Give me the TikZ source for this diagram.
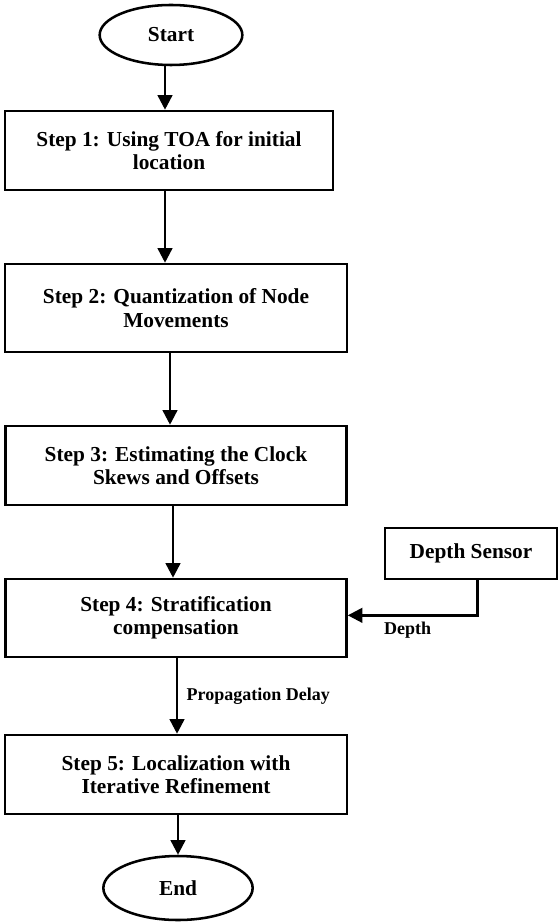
\documentclass[tikz,border=0pt]{standalone}
\usepackage{fontspec}
\setmainfont{Liberation Serif}
\usetikzlibrary{arrows.meta,shapes.geometric}

\begin{document}
\begin{tikzpicture}[x=0.75pt,y=-0.75pt,>={Triangle[width=11pt,length=11pt]},
    line join=miter,
    stepbox/.style={draw,line width=1.9pt,align=center,inner sep=2pt,
      font=\fontsize{16}{17.5}\selectfont\bfseries},
    terminal/.style={draw,ellipse,line width=1.9pt,inner sep=0pt,
      font=\fontsize{16}{17.5}\selectfont\bfseries},
    flow/.style={->,line width=1.9pt},
    flowlabel/.style={font=\fontsize{13.5}{15}\selectfont\bfseries}]
    \useasboundingbox (0,0) rectangle (558,923);

    % Start and end of the procedure.
    \node[terminal,minimum width=107pt,minimum height=45pt] (start)
      at (171,35) {Start};
    \node[terminal,minimum width=112pt,minimum height=48pt] (end)
      at (178,888) {End};

    % The five steps.
    \node[stepbox,minimum width=246pt,minimum height=59.25pt] (step1)
      at (169,150.5) {Step 1: Using TOA for initial\\location};
    \node[stepbox,minimum width=256.5pt,minimum height=66pt] (step2)
      at (176,308) {Step 2: Quantization of Node\\Movements};
    \node[stepbox,minimum width=255.75pt,minimum height=59.25pt] (step3)
      at (176,465.5) {Step 3: Estimating the Clock\\Skews and Offsets};
    \node[stepbox,minimum width=255.75pt,minimum height=58.5pt] (step4)
      at (176,618) {Step 4: Stratification\\compensation};
    \node[stepbox,minimum width=256.5pt,minimum height=59.25pt] (step5)
      at (176,774.5) {Step 5: Localization with\\Iterative Refinement};

    % Side input.
    \node[stepbox,minimum width=129pt,minimum height=38.25pt] (sensor)
      at (471,553.5) {Depth Sensor};

    % Main flow.
    \draw[flow] ([xshift=-4.5pt]start.south)
      -- ([xshift=-4.5pt]start.south |- step1.north);
    \draw[flow] ([xshift=-3pt]step1.south)
      -- ([xshift=-3pt]step1.south |- step2.north);
    \draw[flow] ([xshift=-4.5pt]step2.south)
      -- ([xshift=-4.5pt]step2.south |- step3.north);
    \draw[flow] ([xshift=-2.25pt]step3.south)
      -- ([xshift=-2.25pt]step3.south |- step4.north);
    \draw[flow] ([xshift=0.75pt]step4.south)
      -- ([xshift=0.75pt]step4.south |- step5.north)
      node[flowlabel,midway,right=3pt] {Propagation Delay};
    \draw[flow] (end.north |- step5.south) -- (end.north);

    % Depth reading into step 4.
    \draw[flow] ([xshift=5pt]sensor.south) |- ([yshift=2pt]step4.east)
      node[flowlabel,pos=0.77,below=1pt] {Depth};
\end{tikzpicture}
\end{document}
